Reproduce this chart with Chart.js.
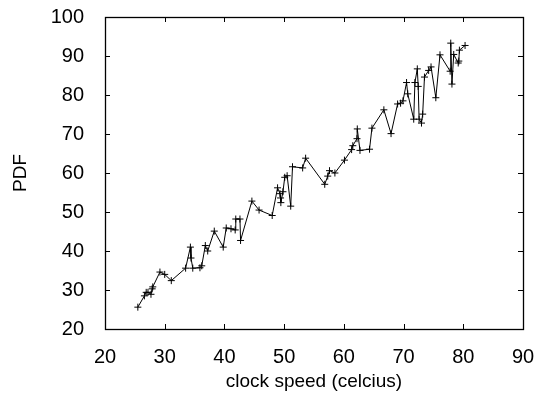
<!DOCTYPE html>
<html>
<head>
<script src="https://cdn.jsdelivr.net/npm/chart.js@4.4.1/dist/chart.umd.min.js"></script>
<style>
  body { margin: 0; background: #fff; }
</style>
</head>
<body>
<canvas id="chart" width="537" height="394"></canvas>
<script>
// measured clock speed (x) and PDF (y), in the order gnuplot draws them
var clockSpeed = [25.5, 26.6, 26.9, 27.2, 27.7, 27.9, 28.0, 29.2, 30.0, 31.1,
  33.5, 34.3, 34.4, 34.7, 35.9, 36.2, 36.8, 37.2, 38.3, 39.8,
  40.3, 41.1, 41.8, 41.9, 42.6, 42.7, 44.6, 45.8, 48.0, 48.9,
  49.3, 49.4, 49.45, 49.8, 50.1, 50.5, 51.1, 51.4, 53.1, 53.6,
  56.8, 57.3, 57.6, 58.5, 60.1, 61.3, 61.5, 62.2, 62.25, 62.7,
  64.3, 64.7, 66.7, 67.9, 69.0, 69.5, 69.9, 70.5, 70.7, 71.7,
  71.9, 72.3, 72.45, 72.6, 73.0, 73.2, 73.5, 74.2, 74.6, 75.4,
  76.1, 77.8, 77.9, 78.1, 78.4, 79.15, 79.25, 79.35, 80.3];
var pdfValues = [25.6, 28.5, 29.4, 29.4, 28.9, 30.3, 30.8, 34.6, 34.0, 32.4,
  35.6, 41.0, 38.2, 35.6, 35.7, 36.2, 41.4, 40.0, 45.1, 41.0,
  45.9, 45.7, 45.4, 48.2, 48.2, 42.7, 52.8, 50.5, 49.1, 56.2,
  54.7, 53.6, 52.4, 55.2, 58.9, 59.3, 51.5, 61.6, 61.3, 63.8,
  57.1, 59.2, 60.6, 60.0, 63.3, 66.0, 67.0, 68.8, 71.3, 65.8,
  66.1, 71.5, 76.2, 70.1, 77.7, 77.9, 78.5, 83.2, 80.3, 73.8,
  83.2, 86.7, 82.2, 73.8, 72.8, 75.1, 84.6, 86.3, 87.2, 79.3,
  90.3, 86.1, 93.3, 82.8, 90.4, 88.2, 88.7, 91.5, 92.7];

var xTicks = [20, 30, 40, 50, 60, 70, 80, 90];
var yTicks = [20, 30, 40, 50, 60, 70, 80, 90, 100];

var points = [];
for (var i = 0; i < clockSpeed.length; i++) {
  points.push({ x: clockSpeed[i], y: pdfValues[i] });
}

// gnuplot style frame: box round the plot with ticks pointing inwards on all sides
var frame = {
  id: 'frame',
  afterDraw: function(chart) {
    var ctx = chart.ctx, a = chart.chartArea;
    var xs = chart.scales.x, ys = chart.scales.y;
    var len = 5;
    ctx.save();
    ctx.strokeStyle = '#000';
    ctx.lineWidth = 1;
    ctx.beginPath();
    xTicks.forEach(function(v) {
      var px = Math.round(xs.getPixelForValue(v)) + 0.5;
      ctx.moveTo(px, a.bottom); ctx.lineTo(px, a.bottom - len);
      ctx.moveTo(px, a.top); ctx.lineTo(px, a.top + len);
    });
    yTicks.forEach(function(v) {
      var py = Math.round(ys.getPixelForValue(v)) + 0.5;
      ctx.moveTo(a.left, py); ctx.lineTo(a.left + len, py);
      ctx.moveTo(a.right, py); ctx.lineTo(a.right - len, py);
    });
    ctx.stroke();
    ctx.lineWidth = 1.3;
    ctx.strokeRect(Math.round(a.left) + 0.5, Math.round(a.top) + 0.5,
      Math.round(a.right - a.left), Math.round(a.bottom - a.top));
    ctx.restore();
  }
};

var font = { family: 'Liberation Sans, Arial, sans-serif', size: 20 };
var titleFont = { family: 'Liberation Sans, Arial, sans-serif', size: 19 };

new Chart(document.getElementById('chart'), {
  type: 'line',
  data: {
    datasets: [{
      data: points,
      borderColor: '#000',
      borderWidth: 1,
      pointStyle: 'cross',
      pointRadius: 3.5,
      pointBorderColor: '#000',
      pointBorderWidth: 1,
      fill: false,
      tension: 0
    }]
  },
  options: {
    responsive: false,
    animation: false,
    layout: { padding: { left: 0, right: 14, top: 17, bottom: 0 } },
    plugins: { legend: { display: false }, tooltip: { enabled: false } },
    scales: {
      x: {
        type: 'linear',
        min: 20, max: 90,
        afterBuildTicks: function(s) { s.ticks = xTicks.map(function(v) { return { value: v }; }); },
        afterFit: function(s) { s.height = 65; s.paddingLeft = 0; s.paddingRight = 0; },
        grid: { display: false },
        border: { display: false },
        ticks: { color: '#000', font: font, padding: 8, maxRotation: 0 },
        title: { display: true, text: 'clock speed (celcius)', color: '#000', font: titleFont, padding: { top: 8, bottom: 1 } }
      },
      y: {
        type: 'linear',
        min: 20, max: 100,
        afterBuildTicks: function(s) { s.ticks = yTicks.map(function(v) { return { value: v }; }); },
        afterFit: function(s) { s.width = 105; s.paddingTop = 0; s.paddingBottom = 0; },
        grid: { display: false },
        border: { display: false },
        ticks: { color: '#000', font: font, padding: 13 },
        title: { display: true, text: 'PDF', color: '#000', font: titleFont, padding: { top: 9, bottom: 0 } }
      }
    }
  },
  plugins: [frame]
});
</script>
</body>
</html>
